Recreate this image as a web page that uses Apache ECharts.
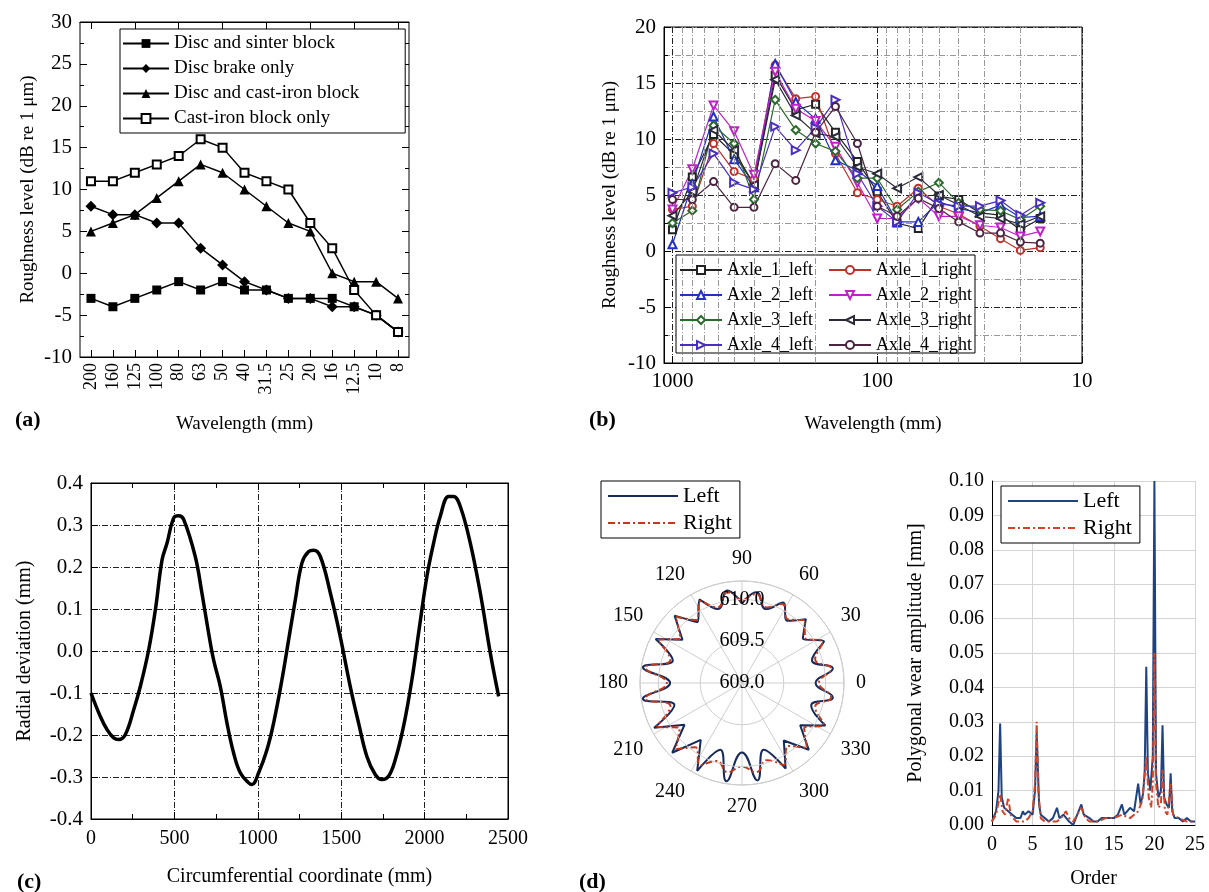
<!DOCTYPE html>
<html>
<head>
<meta charset="utf-8">
<script src="https://cdn.jsdelivr.net/npm/echarts@6/dist/echarts.min.js"></script>
<style>
    html, body { margin: 0; padding: 0; background: #fff; }
    #main { width: 1209px; height: 892px; }
</style>
</head>
<body>
<div id="main"></div>
<script>
    // ---------- (a) roughness for different brake configurations ----------
    var wavelengthA = ['200', '160', '125', '100', '80', '63', '50', '40', '31.5', '25', '20', '16', '12.5', '10', '8']
    var discSinter = [-3, -4, -3, -2, -1, -2, -1, -2, -2, -3, -3, -3, -4, -5, -7]
    var discOnly = [8, 7, 7, 6, 6, 3, 1, -1, -2, -3, -3, -4, -4, -5, -7]
    var discCastIron = [5, 6, 7, 9, 11, 13, 12, 10, 8, 6, 5, 0, -1, -1, -3]
    var castIronOnly = [11, 11, 12, 13, 14, 16, 15, 12, 11, 10, 6, 3, -2, -5, -7]

    // ---------- (b) roughness per axle (1/3 octave bands) ----------
    var wavelengthB = [1000, 800, 630, 500, 400, 315, 250, 200, 160, 125, 100, 80, 63, 50, 40, 31.5, 25, 20, 16]
    var axle1Left = [1.9, 6.6, 10.4, 8.6, 6.0, 15.7, 12.6, 13.1, 10.6, 8.0, 5.3, 2.5, 2.0, 4.9, 4.6, 3.4, 3.2, 1.9, 2.9]
    var axle1Right = [3.7, 4.0, 9.6, 7.1, 6.4, 16.6, 13.6, 13.8, 8.7, 5.2, 4.6, 4.0, 5.6, 4.0, 3.3, 2.2, 1.1, 0.05, 0.3]
    var axle2Left = [0.6, 6.0, 12.0, 8.2, 5.7, 16.7, 13.3, 11.8, 8.1, 7.2, 5.8, 2.6, 2.6, 4.4, 3.8, 3.4, 4.1, 3.0, 3.1]
    var axle2Right = [3.7, 7.3, 13.0, 10.7, 6.8, 16.0, 12.7, 11.6, 9.3, 6.1, 2.9, 2.9, 4.7, 3.1, 3.1, 2.3, 2.1, 1.3, 1.75]
    var axle3Left = [2.5, 3.6, 11.2, 9.6, 4.6, 13.5, 10.8, 9.6, 8.9, 6.5, 6.5, 3.7, 5.3, 6.1, 4.3, 3.7, 3.6, 2.8, 4.0]
    var axle3Right = [3.15, 5.3, 10.8, 9.0, 5.9, 15.3, 12.1, 10.5, 10.2, 7.5, 6.9, 5.6, 6.6, 5.0, 4.1, 3.1, 2.9, 2.4, 3.1]
    var axle4Left = [5.2, 5.7, 8.7, 6.1, 5.5, 11.1, 9.0, 11.0, 13.5, 6.9, 4.0, 2.6, 5.2, 4.2, 4.0, 4.0, 4.5, 3.2, 4.3]
    var axle4Right = [4.6, 4.6, 6.2, 3.9, 3.9, 7.8, 6.3, 10.6, 12.9, 9.6, 4.0, 3.1, 4.7, 3.8, 2.6, 1.6, 1.6, 0.8, 0.7]
    var minorWave = [900, 800, 700, 600, 500, 400, 300, 200, 90, 80, 70, 60, 50, 40, 30, 20]

    // ---------- (c) radial deviation around the wheel ----------
    var circCoord = [0, 56, 96, 136, 166, 206, 256, 296, 346, 386, 426, 456, 496, 526, 556, 625, 665, 705, 735, 775, 815,
        855, 895, 945, 965, 1005, 1055, 1095, 1145, 1185, 1225, 1265, 1305, 1335, 1375, 1435, 1494, 1554, 1604, 1654,
        1704, 1744, 1784, 1824, 1874, 1924, 1964, 2014, 2054, 2094, 2144, 2174, 2214, 2274, 2334, 2394, 2444]
    var radialDev = [-0.10, -0.156, -0.187, -0.207, -0.211, -0.199, -0.14, -0.084, 0.003, 0.098, 0.217, 0.257, 0.317,
        0.322, 0.313, 0.225, 0.138, 0.043, -0.021, -0.084, -0.171, -0.243, -0.29, -0.314, -0.318, -0.29, -0.235, -0.171,
        -0.068, 0.027, 0.122, 0.21, 0.237, 0.24, 0.225, 0.138, 0.035, -0.084, -0.171, -0.251, -0.294, -0.306, -0.298,
        -0.259, -0.179, -0.068, 0.043, 0.178, 0.257, 0.321, 0.368, 0.368, 0.344, 0.257, 0.138, -0.005, -0.108]

    // ---------- (d) polar radius (mm) and polygon order spectrum ----------
    var polarAngle = [0, 9, 18, 27, 36, 45, 54, 63, 72, 81, 90, 99, 108, 117, 126, 135, 144, 153, 162, 171,
        180, 189, 198, 207, 216, 225, 234, 243, 252, 261, 270, 279, 288, 297, 306, 315, 324, 333, 342, 351]
    var radiusLeft = [609.88, 610.10, 609.88, 610.10, 609.90, 610.08, 609.92, 610.08, 609.93, 610.10,
        609.95, 610.12, 609.93, 610.12, 609.90, 610.14, 609.88, 610.16, 609.87, 610.20,
        609.86, 610.20, 609.85, 610.18, 609.85, 610.18, 609.84, 610.18, 609.84, 610.19,
        609.83, 610.18, 609.84, 610.15, 609.85, 610.13, 609.86, 610.12, 609.87, 610.10]
    var radiusRight = [609.92, 610.08, 609.92, 610.08, 609.93, 610.06, 609.94, 610.06, 609.95, 610.08,
        609.97, 610.10, 609.95, 610.10, 609.93, 610.12, 609.91, 610.13, 609.90, 610.17,
        609.90, 610.17, 609.90, 610.14, 609.92, 610.12, 609.95, 610.10, 609.98, 610.08,
        610.00, 610.08, 609.97, 610.10, 609.93, 610.10, 609.92, 610.10, 609.92, 610.08]

    var specLeft = [[0, 0.001], [0.5, 0.004], [0.8, 0.010], [1.0, 0.0295], [1.2, 0.008], [1.5, 0.005], [2.0, 0.004],
        [2.5, 0.003], [3.0, 0.002], [3.5, 0.002], [3.8, 0.004], [4.0, 0.003], [4.5, 0.004], [5.0, 0.003], [5.3, 0.010],
        [5.5, 0.027], [5.8, 0.006], [6.0, 0.003], [6.5, 0.002], [7.0, 0.001], [7.5, 0.002], [8.0, 0.005], [8.3, 0.002],
        [8.8, 0.003], [9.5, 0.001], [10.0, 0.000], [10.5, 0.003], [11.0, 0.006], [11.3, 0.003], [12.0, 0.002],
        [12.5, 0.001], [13.0, 0.001], [13.5, 0.002], [14.0, 0.002], [14.5, 0.002], [15.0, 0.002], [15.5, 0.003],
        [16.0, 0.006], [16.3, 0.003], [17.0, 0.005], [17.5, 0.004], [18.0, 0.012], [18.3, 0.006], [18.6, 0.009],
        [18.8, 0.015], [19.0, 0.046], [19.2, 0.015], [19.5, 0.010], [19.8, 0.020], [20.0, 0.100], [20.2, 0.015],
        [20.5, 0.008], [20.8, 0.010], [21.0, 0.029], [21.2, 0.008], [21.5, 0.006], [21.8, 0.005], [22.0, 0.015],
        [22.2, 0.004], [22.5, 0.002], [23.0, 0.002], [23.5, 0.001], [24.0, 0.002], [24.5, 0.001], [25.0, 0.001]]
    var specRight = [[0, 0.001], [0.5, 0.003], [1.0, 0.009], [1.3, 0.004], [1.6, 0.003], [2.0, 0.008], [2.3, 0.003],
        [2.6, 0.002], [3.0, 0.001], [4.0, 0.001], [4.5, 0.002], [5.0, 0.004], [5.3, 0.012], [5.5, 0.030], [5.7, 0.010],
        [6.0, 0.002], [6.5, 0.001], [8.0, 0.001], [8.5, 0.002], [9.1, 0.004], [9.5, 0.002], [10.0, 0.001], [10.5, 0.003],
        [11.0, 0.005], [11.5, 0.002], [12.0, 0.001], [13.0, 0.001], [14.0, 0.002], [15.0, 0.002], [16.0, 0.003],
        [17.0, 0.002], [17.5, 0.003], [18.0, 0.004], [18.5, 0.007], [19.0, 0.020], [19.3, 0.008], [19.6, 0.005],
        [19.8, 0.012], [20.0, 0.050], [20.2, 0.012], [20.5, 0.005], [20.8, 0.006], [21.0, 0.016], [21.3, 0.004],
        [21.6, 0.003], [22.0, 0.012], [22.3, 0.003], [23.0, 0.002], [24.0, 0.001], [25.0, 0.001]]

    var serif = 'Liberation Serif'
    var dashDot = [6, 2, 1, 2]
    var txt = function (size) {
        return { color: '#000', fontFamily: serif, fontSize: size }
    }
    var tickIn = function (len) {
        return { show: true, inside: true, length: len, lineStyle: { color: '#000' } }
    }
    var plain = function (v) { return String(v) }

    // polar points: angle axis runs 90..450 so the radius labels sit on the vertical spoke
    function polarPts(vals) {
        var pts = polarAngle.map(function (a, i) {
            return [vals[i], a < 90 ? a + 360 : a]
        })
        pts.sort(function (p, q) { return p[1] - q[1] })
        pts.push([pts[0][0], pts[0][1] + 360])
        return pts
    }

    function axleSeries(name, vals, symbol, rotate, color, size) {
        return {
            name: name, type: 'line', xAxisIndex: 2, yAxisIndex: 2,
            data: wavelengthB.map(function (w, i) { return [w, vals[i]] }),
            symbol: symbol, symbolSize: size || 7, symbolRotate: rotate,
            lineStyle: { width: 1.2, color: color },
            itemStyle: { color: color }
        }
    }

    var chart = echarts.init(document.getElementById('main'))
    var option = {
        animation: false,
        backgroundColor: '#fff',
        textStyle: { fontFamily: serif },
        title: [
            { text: '(a)', left: 10, top: 404, textStyle: { fontSize: 22, fontWeight: 'bold', fontFamily: serif, color: '#000' } },
            { text: '(b)', left: 584, top: 404, textStyle: { fontSize: 22, fontWeight: 'bold', fontFamily: serif, color: '#000' } },
            { text: '(c)', left: 12, top: 866, textStyle: { fontSize: 22, fontWeight: 'bold', fontFamily: serif, color: '#000' } },
            { text: '(d)', left: 574, top: 866, textStyle: { fontSize: 22, fontWeight: 'bold', fontFamily: serif, color: '#000' } }
        ],
        grid: [
            { left: 80, top: 22, width: 329, height: 335, show: true, borderColor: '#000', borderWidth: 1 },
            { left: 664, top: 27, width: 418, height: 336, show: true, borderColor: '#000', borderWidth: 1 },
            { left: 91, top: 483, width: 417, height: 336, show: true, borderColor: '#000', borderWidth: 1 },
            { left: 992, top: 481, width: 203, height: 344 }
        ],
        polar: { center: [742, 683], radius: 102 },
        angleAxis: {
            type: 'value', min: 90, max: 450, interval: 30, startAngle: 90, clockwise: false,
            axisLine: { lineStyle: { color: '#c4c4c4' } },
            axisTick: { show: false },
            axisLabel: { formatter: function (v) { return String(v % 360) }, margin: 12, color: '#000', fontFamily: serif, fontSize: 20 },
            splitLine: { lineStyle: { color: '#cfcfcf' } }
        },
        radiusAxis: {
            type: 'value', min: 609, max: 610.22, interval: 0.5,
            axisLine: { show: false }, axisTick: { show: false },
            axisLabel: { formatter: function (v) { return v.toFixed(1) }, showMaxLabel: false, margin: 0, align: 'center', verticalAlign: 'middle', color: '#000', fontFamily: serif, fontSize: 20 },
            splitLine: { lineStyle: { color: '#cfcfcf' } },
            z: 5
        },
        xAxis: [
            {
                type: 'category', gridIndex: 0, data: wavelengthA,
                axisLine: { onZero: false, lineStyle: { color: '#000' } },
                axisTick: Object.assign(tickIn(7), { alignWithLabel: true }),
                axisLabel: Object.assign(txt(18), { rotate: 90, interval: 0, margin: 6 }),
                name: 'Wavelength (mm)', nameLocation: 'middle', nameGap: 58, nameTextStyle: txt(19)
            },
            {
                type: 'category', gridIndex: 0, data: wavelengthA, position: 'top',
                axisLine: { onZero: false, lineStyle: { color: '#000' } },
                axisTick: Object.assign(tickIn(7), { alignWithLabel: true }),
                axisLabel: { show: false }
            },
            {
                type: 'log', gridIndex: 1, min: 10, max: 1100, inverse: true,
                axisLine: { onZero: false, lineStyle: { color: '#000' } },
                axisTick: tickIn(7),
                axisLabel: Object.assign(txt(21), { showMaxLabel: false, margin: 8, formatter: plain }),
                splitLine: { show: true, lineStyle: { color: '#222', type: dashDot } },
                name: 'Wavelength (mm)', nameLocation: 'middle', nameGap: 52, nameTextStyle: txt(19)
            },
            {
                type: 'value', gridIndex: 2, min: 0, max: 2500, interval: 500,
                axisLine: { onZero: false, lineStyle: { color: '#000' } },
                axisTick: tickIn(7), minorTick: { show: true, splitNumber: 2, length: 5, lineStyle: { color: '#000' } },
                axisLabel: Object.assign(txt(20), { margin: 10, formatter: plain }),
                splitLine: { show: true, lineStyle: { color: '#222', type: dashDot } },
                name: 'Circumferential coordinate (mm)', nameLocation: 'middle', nameGap: 48, nameTextStyle: txt(20)
            },
            {
                type: 'value', gridIndex: 2, min: 0, max: 2500, interval: 500, position: 'top',
                axisLine: { onZero: false, lineStyle: { color: '#000' } },
                axisTick: tickIn(7), minorTick: { show: true, splitNumber: 2, length: 5, lineStyle: { color: '#000' } },
                axisLabel: { show: false }, splitLine: { show: false }
            },
            {
                type: 'value', gridIndex: 3, min: 0, max: 25, interval: 5,
                axisLine: { onZero: false, lineStyle: { color: '#000' } },
                axisTick: { show: false },
                axisLabel: Object.assign(txt(20), { margin: 10 }),
                splitLine: { show: true, lineStyle: { color: '#d4d4d4' } },
                name: 'Order', nameLocation: 'middle', nameGap: 44, nameTextStyle: txt(20)
            }
        ],
        yAxis: [
            {
                type: 'value', gridIndex: 0, min: -10, max: 30, interval: 5,
                axisLine: { onZero: false, lineStyle: { color: '#000' } },
                axisTick: tickIn(7), minorTick: { show: true, splitNumber: 2, length: 4, lineStyle: { color: '#000' } },
                axisLabel: Object.assign(txt(21), { margin: 8 }),
                splitLine: { show: false },
                name: 'Roughness level (dB re 1 μm)', nameLocation: 'middle', nameGap: 42, nameTextStyle: txt(19)
            },
            {
                type: 'value', gridIndex: 0, min: -10, max: 30, interval: 5, position: 'right',
                axisLine: { onZero: false, lineStyle: { color: '#000' } },
                axisTick: tickIn(7), minorTick: { show: true, splitNumber: 2, length: 4, lineStyle: { color: '#000' } },
                axisLabel: { show: false }, splitLine: { show: false }
            },
            {
                type: 'value', gridIndex: 1, min: -10, max: 20, interval: 5,
                axisLine: { onZero: false, lineStyle: { color: '#000' } },
                axisTick: tickIn(7), minorTick: { show: true, splitNumber: 2, length: 4, lineStyle: { color: '#000' } },
                axisLabel: Object.assign(txt(21), { margin: 8 }),
                splitLine: { show: true, lineStyle: { color: '#222', type: dashDot } },
                minorSplitLine: { show: true, lineStyle: { color: '#999', type: dashDot } },
                name: 'Roughness level (dB re 1 μm)', nameLocation: 'middle', nameGap: 44, nameTextStyle: txt(19)
            },
            {
                type: 'value', gridIndex: 2, min: -0.4, max: 0.4, interval: 0.1,
                axisLine: { onZero: false, lineStyle: { color: '#000' } },
                axisTick: tickIn(7),
                axisLabel: Object.assign(txt(21), { margin: 8, formatter: function (v) { return v.toFixed(1) } }),
                splitLine: { show: true, lineStyle: { color: '#222', type: dashDot } },
                name: 'Radial deviation (mm)', nameLocation: 'middle', nameGap: 56, nameTextStyle: txt(20)
            },
            {
                type: 'value', gridIndex: 2, min: -0.4, max: 0.4, interval: 0.1, position: 'right',
                axisLine: { onZero: false, lineStyle: { color: '#000' } },
                axisTick: tickIn(7), axisLabel: { show: false }, splitLine: { show: false }
            },
            {
                type: 'value', gridIndex: 3, min: 0, max: 0.1, interval: 0.01,
                axisLine: { show: true, onZero: false, lineStyle: { color: '#000' } },
                axisTick: { show: false },
                axisLabel: Object.assign(txt(20), { margin: 8, formatter: function (v) { return v.toFixed(2) } }),
                splitLine: { show: true, lineStyle: { color: '#d4d4d4' } },
                name: 'Polygonal wear amplitude [mm]', nameLocation: 'middle', nameGap: 66, nameTextStyle: txt(20)
            }
        ],
        legend: [
            {
                orient: 'vertical', left: 120, top: 29, padding: [5, 46, 5, 2], itemGap: 6, itemWidth: 46, itemHeight: 11,
                borderColor: '#000', borderWidth: 1, backgroundColor: '#fff',
                data: ['Disc and sinter block', 'Disc brake only', 'Disc and cast-iron block', 'Cast-iron block only'],
                textStyle: txt(19)
            },
            {
                orient: 'vertical', left: 679, top: 261, padding: 0, itemGap: 7, itemWidth: 42, itemHeight: 10, z: 6,
                data: ['Axle_1_left', 'Axle_2_left', 'Axle_3_left', 'Axle_4_left'],
                textStyle: txt(18)
            },
            {
                orient: 'vertical', left: 828, top: 261, padding: 0, itemGap: 7, itemWidth: 42, itemHeight: 10, z: 6,
                data: ['Axle_1_right', 'Axle_2_right', 'Axle_3_right', 'Axle_4_right'],
                textStyle: txt(18)
            },
            {
                orient: 'vertical', left: 601, top: 481, padding: [4, 8, 4, 6], itemGap: 5, itemWidth: 70, itemHeight: 12,
                borderColor: '#000', borderWidth: 1,
                data: [
                    { name: 'Left', itemStyle: { color: '#172a5c', opacity: 0 }, lineStyle: { color: '#172a5c', width: 2 } },
                    { name: 'Right', itemStyle: { color: '#c0391b', opacity: 0 }, lineStyle: { color: '#c0391b', width: 2, type: [7, 3, 2, 3] } }
                ],
                textStyle: txt(22)
            },
            {
                orient: 'vertical', left: 1001, top: 486, padding: [4, 8, 4, 6], itemGap: 5, itemWidth: 70, itemHeight: 12,
                borderColor: '#000', borderWidth: 1, backgroundColor: '#fff',
                data: [
                    { name: 'Left', itemStyle: { color: '#1f4380', opacity: 0 }, lineStyle: { color: '#1f4380', width: 2 } },
                    { name: 'Right', itemStyle: { color: '#d0452a', opacity: 0 }, lineStyle: { color: '#d0452a', width: 2, type: [7, 3, 2, 3] } }
                ],
                textStyle: txt(22)
            }
        ],
        graphic: [
            { type: 'rect', z: 5, shape: { x: 676, y: 255, width: 299, height: 98 }, style: { fill: '#fff', stroke: '#000', lineWidth: 1 } }
        ],
        series: [
            // (a)
            { name: 'Disc and sinter block', type: 'line', xAxisIndex: 0, yAxisIndex: 0, data: discSinter, symbol: 'rect', symbolSize: 9, lineStyle: { color: '#000', width: 1.5 }, itemStyle: { color: '#000' } },
            { name: 'Disc brake only', type: 'line', xAxisIndex: 0, yAxisIndex: 0, data: discOnly, symbol: 'diamond', symbolSize: 11, lineStyle: { color: '#000', width: 1.5 }, itemStyle: { color: '#000' } },
            { name: 'Disc and cast-iron block', type: 'line', xAxisIndex: 0, yAxisIndex: 0, data: discCastIron, symbol: 'triangle', symbolSize: 10, lineStyle: { color: '#000', width: 1.5 }, itemStyle: { color: '#000' } },
            { name: 'Cast-iron block only', type: 'line', xAxisIndex: 0, yAxisIndex: 0, data: castIronOnly, symbol: 'emptyRect', symbolSize: 8, lineStyle: { color: '#000', width: 1.5 }, itemStyle: { color: '#000' } },
            // (b)
            Object.assign(axleSeries('Axle_1_left', axle1Left, 'emptyRect', 0, '#222'), {
                markLine: {
                    silent: true, symbol: 'none', label: { show: false },
                    lineStyle: { color: '#999', width: 1, type: dashDot },
                    data: minorWave.map(function (w) { return { xAxis: w } })
                }
            }),
            axleSeries('Axle_1_right', axle1Right, 'emptyCircle', 0, '#c0302a'),
            axleSeries('Axle_2_left', axle2Left, 'emptyTriangle', 0, '#2230c8', 8),
            axleSeries('Axle_2_right', axle2Right, 'emptyTriangle', 180, '#c020c8', 8),
            axleSeries('Axle_3_left', axle3Left, 'emptyDiamond', 0, '#2a6a2a', 8),
            axleSeries('Axle_3_right', axle3Right, 'emptyTriangle', 90, '#2a2a3a', 8),
            axleSeries('Axle_4_left', axle4Left, 'emptyTriangle', -90, '#4a2ec0', 8),
            axleSeries('Axle_4_right', axle4Right, 'emptyCircle', 0, '#4a2440'),
            // (c)
            {
                name: 'radial', type: 'line', xAxisIndex: 3, yAxisIndex: 3, smooth: 0.4, symbol: 'none',
                data: circCoord.map(function (x, i) { return [x, radialDev[i]] }),
                lineStyle: { color: '#000', width: 3.5 }
            },
            // (d) polar
            { name: 'Left', type: 'line', coordinateSystem: 'polar', data: polarPts(radiusLeft), smooth: 0.5, symbol: 'none', lineStyle: { color: '#172a5c', width: 2 }, itemStyle: { color: '#172a5c' } },
            { name: 'Right', type: 'line', coordinateSystem: 'polar', data: polarPts(radiusRight), smooth: 0.5, symbol: 'none', lineStyle: { color: '#c0391b', width: 2, type: [7, 3, 2, 3] }, itemStyle: { color: '#c0391b' } },
            // (d) spectrum
            { name: 'Left', type: 'line', xAxisIndex: 5, yAxisIndex: 5, data: specLeft, symbol: 'none', lineStyle: { color: '#1f4380', width: 2 }, itemStyle: { color: '#1f4380' } },
            { name: 'Right', type: 'line', xAxisIndex: 5, yAxisIndex: 5, data: specRight, symbol: 'none', lineStyle: { color: '#d0452a', width: 2, type: [7, 3, 2, 3] }, itemStyle: { color: '#d0452a' } }
        ]
    }
    chart.setOption(option)
</script>
</body>
</html>
